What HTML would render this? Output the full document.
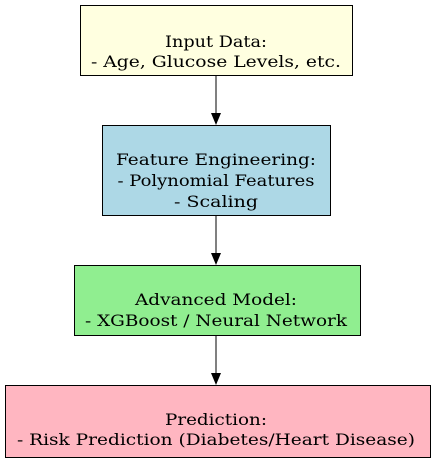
<!DOCTYPE html>
<html><head><meta charset="utf-8"><style>html,body{margin:0;padding:0;background:#fff}svg{display:block}</style></head>
<body>
<svg width="435" height="463" viewBox="0 0 435 463" xmlns="http://www.w3.org/2000/svg" font-family="'DejaVu Serif', serif" font-size="15.5" text-anchor="middle">
<rect x="80.5" y="5.5" width="272" height="70" fill="#ffffe0" stroke="#000"/>
<text x="216" y="47" textLength="102" lengthAdjust="spacingAndGlyphs">Input Data:</text>
<text x="216" y="67" textLength="250" lengthAdjust="spacingAndGlyphs">- Age, Glucose Levels, etc.</text>
<line x1="216" y1="76" x2="216" y2="114" stroke="#000"/>
<polygon points="211,113 221,113 216,125" fill="#000"/>
<rect x="102.5" y="125.5" width="228" height="90" fill="#add8e6" stroke="#000"/>
<text x="216" y="165" textLength="200" lengthAdjust="spacingAndGlyphs">Feature Engineering:</text>
<text x="216" y="186" textLength="197" lengthAdjust="spacingAndGlyphs">- Polynomial Features</text>
<text x="216" y="207" textLength="84" lengthAdjust="spacingAndGlyphs">- Scaling</text>
<line x1="216" y1="216" x2="216" y2="254" stroke="#000"/>
<polygon points="211,253 221,253 216,265" fill="#000"/>
<rect x="74.5" y="265.5" width="286" height="70" fill="#90ee90" stroke="#000"/>
<text x="216" y="305" textLength="162" lengthAdjust="spacingAndGlyphs">Advanced Model:</text>
<text x="216" y="326" textLength="262" lengthAdjust="spacingAndGlyphs">- XGBoost / Neural Network</text>
<line x1="216" y1="336" x2="216" y2="374" stroke="#000"/>
<polygon points="211,373 221,373 216,385" fill="#000"/>
<rect x="5.5" y="385.5" width="425" height="72" fill="#ffb6c1" stroke="#000"/>
<text x="216" y="425" textLength="102" lengthAdjust="spacingAndGlyphs">Prediction:</text>
<text x="216" y="445" textLength="398" lengthAdjust="spacingAndGlyphs">- Risk Prediction (Diabetes/Heart Disease)</text>
</svg>
</body></html>
